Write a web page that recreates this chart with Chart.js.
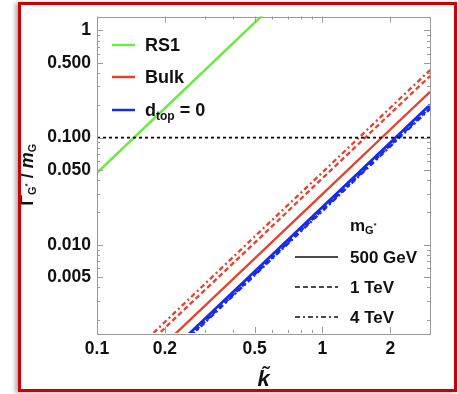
<!DOCTYPE html>
<html>
<head>
<meta charset="utf-8">
<script src="https://cdn.jsdelivr.net/npm/chart.js@4/dist/chart.umd.min.js"></script>
<style>
  html, body { margin: 0; padding: 0; background: #fff; }
  #wrap { position: relative; width: 458px; height: 394px; overflow: hidden; }
  #frame {
    position: absolute; left: 18px; top: 2px; width: 433px; height: 384px;
    border: 3px solid #cc0000; box-shadow: -3px 1px 4px rgba(0,0,0,0.3);
    pointer-events: none;
  }
</style>
</head>
<body>
<div id="wrap">
  <canvas id="chart" width="458" height="394"></canvas>
  <div id="frame"></div>
</div>
<script>
// k-tilde sample points and Gamma/m
const kValues   = [0.1, 0.2, 0.5, 1, 2, 3];
const rs1       = [0.047, 0.188, 1.18, 4.7, 18.8, 42.3];
const bulk500   = [0.000297, 0.00119, 0.00743, 0.0297, 0.119, 0.267];
const bulk1TeV  = [0.000417, 0.00167, 0.0104, 0.0417, 0.167, 0.375];
const bulk4TeV  = [0.000474, 0.0019, 0.0119, 0.0474, 0.19, 0.427];
const dtop500   = [0.000225, 0.0009, 0.00563, 0.0225, 0.09, 0.203];
const dtop1TeV  = [0.000212, 0.00085, 0.0053, 0.0212, 0.085, 0.191];
const dtop4TeV  = [0.000207, 0.00083, 0.0052, 0.0207, 0.083, 0.186];
const refLineX  = [0.1, 3];
const refLineY  = [0.1, 0.1];

const xTicks = [0.1, 0.2, 0.5, 1, 2];
const xTickText = ['0.1', '0.2', '0.5', '1', '2'];
const xMinor = [0.3, 0.4, 0.6, 0.7, 0.8, 0.9, 3];
const yTicks = [0.005, 0.01, 0.05, 0.1, 0.5, 1];
const yTickText = ['0.005', '0.010', '0.050', '0.100', '0.500', '1'];
const yMinor = [0.002, 0.003, 0.004, 0.006, 0.007, 0.008, 0.009,
                0.02, 0.03, 0.04, 0.06, 0.07, 0.08, 0.09,
                0.2, 0.3, 0.4, 0.6, 0.7, 0.8, 0.9];

const GREEN = '#70e84c', RED = '#e6412e', BLUE = '#1a2be6';
const FONT = '"Liberation Sans", Arial, sans-serif';

const pts = (xs, ys) => xs.map((x, i) => ({ x: x, y: ys[i] }));
const near = (a, b) => Math.abs(a - b) / b < 1e-6;

function line(label, ys, color, dash, width) {
  return {
    label: label, data: pts(kValues, ys), borderColor: color,
    borderWidth: width, borderDash: dash, pointRadius: 0, tension: 0, fill: false
  };
}

// draws a sequence of text runs (with sub/superscripts) starting at x, baseline y
function drawRuns(ctx, runs, x, y, align) {
  let total = 0;
  runs.forEach(r => { ctx.font = r.f; total += ctx.measureText(r.t).width; });
  let cx = align === 'center' ? x - total / 2 : x;
  runs.forEach(r => {
    ctx.font = r.f;
    ctx.fillText(r.t, cx, y + (r.dy || 0));
    cx += ctx.measureText(r.t).width;
  });
}

const decor = {
  id: 'decor',
  afterDraw(chart) {
    const ctx = chart.ctx, a = chart.chartArea;
    const xs = chart.scales.x, ys = chart.scales.y;
    ctx.save();
    // frame
    ctx.strokeStyle = '#9a9a9a';
    ctx.lineWidth = 1;
    ctx.strokeRect(Math.round(a.left) + 0.5, Math.round(a.top) + 0.5,
                   Math.round(a.right - a.left), Math.round(a.bottom - a.top));
    // inward ticks on all four sides
    ctx.beginPath();
    xTicks.concat(xMinor).forEach(v => {
      if (v >= xs.max) return;
      const p = Math.round(xs.getPixelForValue(v)) + 0.5;
      const len = xTicks.includes(v) ? 6 : 3;
      ctx.moveTo(p, a.bottom); ctx.lineTo(p, a.bottom - len);
      ctx.moveTo(p, a.top); ctx.lineTo(p, a.top + len);
    });
    yTicks.concat(yMinor).forEach(v => {
      if (v >= ys.max || v <= ys.min) return;
      const p = Math.round(ys.getPixelForValue(v)) + 0.5;
      const len = yTicks.includes(v) ? 6 : 3;
      ctx.moveTo(a.left, p); ctx.lineTo(a.left + len, p);
      ctx.moveTo(a.right, p); ctx.lineTo(a.right - len, p);
    });
    ctx.stroke();

    ctx.fillStyle = '#111';
    ctx.textBaseline = 'alphabetic';
    ctx.textAlign = 'left';

    // x axis title: k tilde
    ctx.font = 'italic bold 22px ' + FONT;
    ctx.textAlign = 'center';
    ctx.fillText('k\u0303', (a.left + a.right) / 2, 386);
    ctx.textAlign = 'left';

    // y axis title
    ctx.save();
    ctx.translate(33, (a.top + a.bottom) / 2);
    ctx.rotate(-Math.PI / 2);
    drawRuns(ctx, [
      { t: '\u0393', f: 'bold 18px ' + FONT },
      { t: 'G', f: 'bold 11px ' + FONT, dy: 3 },
      { t: '*', f: 'bold 8px ' + FONT, dy: -3 },
      { t: ' / ', f: 'bold 18px ' + FONT },
      { t: 'm', f: 'italic bold 18px ' + FONT },
      { t: 'G', f: 'bold 11px ' + FONT, dy: 3 }
    ], 0, 0, 'center');
    ctx.restore();

    // legend: models
    const big = 'bold 18px ' + FONT, small = 'bold 12px ' + FONT;
    const legend1 = [
      { color: GREEN, y: 45, runs: [{ t: 'RS1', f: big }] },
      { color: RED, y: 77, runs: [{ t: 'Bulk', f: big }] },
      { color: BLUE, y: 110, runs: [{ t: 'd', f: big }, { t: 'top', f: small, dy: 4 }, { t: ' = 0', f: big }] }
    ];
    legend1.forEach(e => {
      ctx.strokeStyle = e.color; ctx.lineWidth = 2.5; ctx.setLineDash([]);
      ctx.beginPath(); ctx.moveTo(112, e.y); ctx.lineTo(135, e.y); ctx.stroke();
      drawRuns(ctx, e.runs, 145, e.y + 6, 'left');
    });

    // legend: graviton masses
    drawRuns(ctx, [
      { t: 'm', f: 'bold 17px ' + FONT },
      { t: 'G', f: 'bold 11px ' + FONT, dy: 3 },
      { t: '*', f: 'bold 7px ' + FONT, dy: -3 }
    ], 350, 231, 'left');
    const legend2 = [
      { dash: [], y: 257, label: '500 GeV' },
      { dash: [5, 3], y: 287, label: '1 TeV' },
      { dash: [5, 3, 2, 3], y: 317, label: '4 TeV' }
    ];
    legend2.forEach(e => {
      ctx.strokeStyle = '#111'; ctx.lineWidth = 1.6; ctx.setLineDash(e.dash);
      ctx.beginPath(); ctx.moveTo(295, e.y); ctx.lineTo(338, e.y); ctx.stroke();
      ctx.font = 'bold 17px ' + FONT;
      ctx.fillText(e.label, 350, e.y + 6);
    });
    ctx.restore();
  }
};

new Chart(document.getElementById('chart').getContext('2d'), {
  type: 'line',
  data: {
    datasets: [
      {
        label: 'ref', data: pts(refLineX, refLineY), borderColor: '#000',
        borderWidth: 1.8, borderDash: [3, 3], pointRadius: 0, fill: false
      },
      line('RS1', rs1, GREEN, [], 2.5),
      line('Bulk 4 TeV', bulk4TeV, RED, [5, 3, 2, 3], 2.3),
      line('Bulk 1 TeV', bulk1TeV, RED, [5, 3], 2.3),
      line('Bulk 500 GeV', bulk500, RED, [], 2.3),
      line('dtop 4 TeV', dtop4TeV, BLUE, [5, 3, 2, 3], 2.6),
      line('dtop 1 TeV', dtop1TeV, BLUE, [5, 3], 2.6),
      line('dtop 500 GeV', dtop500, BLUE, [], 2.6)
    ]
  },
  options: {
    responsive: false,
    animation: false,
    layout: { padding: { left: 0, top: 15, right: 28, bottom: 0 } },
    plugins: { legend: { display: false }, tooltip: { enabled: false } },
    scales: {
      x: {
        type: 'logarithmic', min: 0.1, max: 3,
        grid: { display: false, drawTicks: false },
        border: { display: false },
        afterBuildTicks: s => { s.ticks = xTicks.map(v => ({ value: v })); },
        afterFit: s => { s.height = 61; },
        ticks: {
          autoSkip: false, maxRotation: 0, minRotation: 0, padding: 6, color: '#111',
          font: { family: FONT, size: 17.5, weight: 'bold' },
          callback: v => { const i = xTicks.findIndex(t => near(v, t)); return i >= 0 ? xTickText[i] : ''; }
        }
      },
      y: {
        type: 'logarithmic', min: 0.0015, max: 1.35,
        grid: { display: false, drawTicks: false },
        border: { display: false },
        afterBuildTicks: s => { s.ticks = yTicks.map(v => ({ value: v })); },
        afterFit: s => { s.width = 97; },
        ticks: {
          autoSkip: false, padding: 6, color: '#111',
          font: { family: FONT, size: 17.5, weight: 'bold' },
          callback: v => { const i = yTicks.findIndex(t => near(v, t)); return i >= 0 ? yTickText[i] : ''; }
        }
      }
    }
  },
  plugins: [decor]
});
</script>
</body>
</html>
